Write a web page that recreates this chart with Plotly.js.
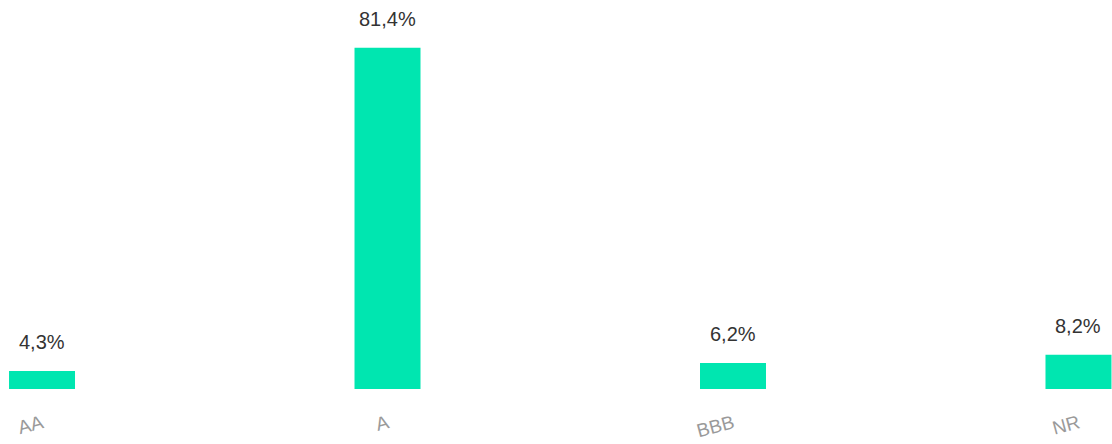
<!DOCTYPE html>
<html>
<head>
<meta charset="utf-8">
<script src="https://cdn.plot.ly/plotly-3.0.1.min.js"></script>
<style>html,body{margin:0;padding:0;background:#fff;}#chart{width:1112px;height:444px;}</style>
</head>
<body>
<div id="chart"></div>
<script>
const categories = ["AA", "A", "BBB", "NR"];
const values = [4.3, 81.4, 6.2, 8.2];
const valueLabels = ["4,3%", "81,4%", "6,2%", "8,2%"];

const trace = {
  type: "bar",
  x: categories,
  y: values,
  marker: { color: "#00e6b0" },
  hoverinfo: "none"
};

const annotations = categories.map((c, i) => ({
  x: c,
  y: values[i],
  xref: "x",
  yref: "y",
  text: valueLabels[i],
  showarrow: false,
  yanchor: "bottom",
  yshift: 16,
  font: { family: "Liberation Sans, Arial, sans-serif", size: 20, color: "#333333" }
}));

const layout = {
  width: 1112,
  height: 444,
  margin: { l: 0, r: 0, t: 0, b: 55 },
  paper_bgcolor: "#ffffff",
  plot_bgcolor: "#ffffff",
  showlegend: false,
  bargap: 0.809,
  xaxis: {
    type: "category",
    range: [-0.1216, 3.097],
    showgrid: false,
    zeroline: false,
    showline: false,
    ticks: "",
    tickangle: -15,
    ticklabelstandoff: 19,
    tickfont: { family: "Liberation Sans, Arial, sans-serif", size: 19, color: "#9a9a9a" },
    fixedrange: true
  },
  yaxis: {
    range: [0, 92.8],
    showgrid: false,
    zeroline: false,
    showline: false,
    showticklabels: false,
    ticks: "",
    fixedrange: true
  },
  annotations: annotations
};

Plotly.newPlot("chart", [trace], layout, { displayModeBar: false, staticPlot: true });
</script>
</body>
</html>
